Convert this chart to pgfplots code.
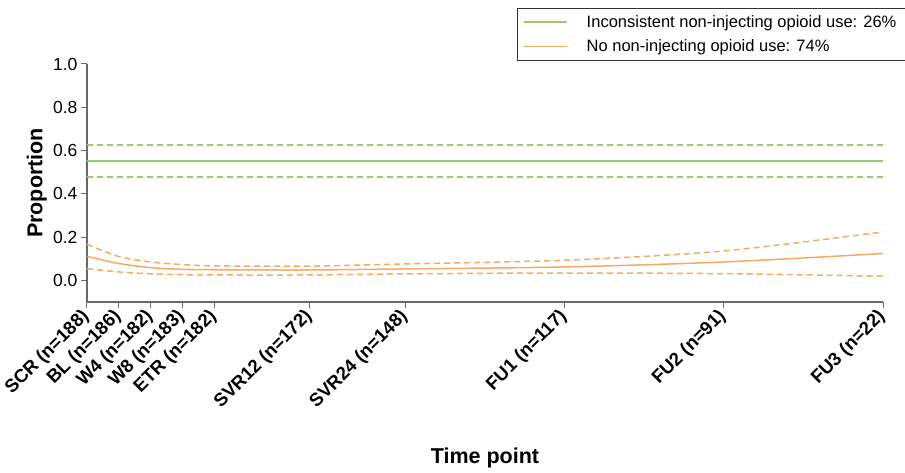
\documentclass[border=0pt]{standalone}
\usepackage{xcolor}
\usepackage{pgfplots}
\pgfplotsset{compat=1.18}
\usepackage{fontspec}
\setmainfont{Liberation Sans}
\definecolor{mygreen}{HTML}{9CC873}
\definecolor{myorange}{HTML}{F5AA66}
\definecolor{myaxis}{HTML}{696969}
\begin{document}
\begin{tikzpicture}
\path[use as bounding box] (0,0) rectangle (905pt,473pt);
\begin{axis}[
  at={(87pt,171pt)}, anchor=south west,
  scale only axis, width=796pt, height=238pt,
  xmin=-4, xmax=96, ymin=-0.1, ymax=1.0,
  axis lines*=left,
  axis line style={draw=myaxis, line width=1.3pt},
  every tick/.style={draw=myaxis, line width=1pt},
  tick align=outside,
  major tick length=6pt,
  xtick={-4,0,4,8,12,24,36,56,76,96},
  xticklabels={SCR (n=188),BL (n=186),W4 (n=182),W8 (n=183),ETR (n=182),SVR12 (n=172),SVR24 (n=148),FU1 (n=117),FU2 (n=91),FU3 (n=22)},
  xticklabel style={rotate=45, anchor=east, font=\fontsize{18.5}{20}\selectfont\bfseries, inner sep=1pt},
  xticklabel shift=5pt,
  ytick={0,0.2,0.4,0.6,0.8,1.0},
  yticklabel style={/pgf/number format/fixed, /pgf/number format/precision=1, /pgf/number format/fixed zerofill, font=\fontsize{17.5}{20}\selectfont},
  /pgf/number format/assume math mode=true,
  xlabel={Time point},
  ylabel={Proportion},
  xlabel style={font=\fontsize{21.5}{24}\selectfont\bfseries, at={(axis description cs:0.5,-0.655)}, anchor=center},
  ylabel style={font=\fontsize{21.5}{24}\selectfont\bfseries, at={(axis description cs:-0.063,0.5)}, anchor=center},
  legend style={at={(axis description cs:0.540,1.235)}, anchor=north west, draw=black!80, line width=0.8pt, font=\fontsize{16.5}{19}\selectfont, row sep=7pt, inner xsep=6pt, inner ysep=5pt},
  legend cell align=left,
  legend image code/.code={\path (0pt,0pt) -- (8pt,0pt); \draw[#1, line width=1.5pt] (8pt,0pt) -- (43pt,0pt);},
  clip=false,
]
\addplot[draw=mygreen, line width=1.5pt] coordinates {(-4,0.551) (96,0.551)};
\addlegendentry{\hspace{17pt}Inconsistent non-injecting opioid use: 26\%\rule{10pt}{0pt}}
\addplot[draw=myorange, line width=1.5pt, smooth, tension=0.5] coordinates {
(-4,0.111) (0,0.078) (4,0.059) (8,0.051) (12,0.049) (24,0.048) (36,0.053) (56,0.062) (76,0.085) (96,0.124)};
\addlegendentry{\hspace{17pt}No non-injecting opioid use: 74\%}
\addplot[draw=mygreen, line width=1.5pt, dash pattern=on 6pt off 4pt, forget plot] coordinates {(-4,0.625) (96,0.625)};
\addplot[draw=mygreen, line width=1.5pt, dash pattern=on 6pt off 4pt, forget plot] coordinates {(-4,0.477) (96,0.477)};
\addplot[draw=myorange, line width=1.5pt, dash pattern=on 6pt off 4pt, smooth, tension=0.5, forget plot] coordinates {
(-4,0.167) (0,0.110) (4,0.085) (8,0.073) (12,0.067) (24,0.066) (36,0.076) (56,0.093) (76,0.136) (96,0.224)};
\addplot[draw=myorange, line width=1.5pt, dash pattern=on 6pt off 4pt, smooth, tension=0.5, forget plot] coordinates {
(-4,0.054) (0,0.039) (4,0.030) (8,0.026) (12,0.025) (24,0.025) (36,0.030) (56,0.034) (76,0.031) (96,0.019)};
\end{axis}
\end{tikzpicture}
\end{document}
